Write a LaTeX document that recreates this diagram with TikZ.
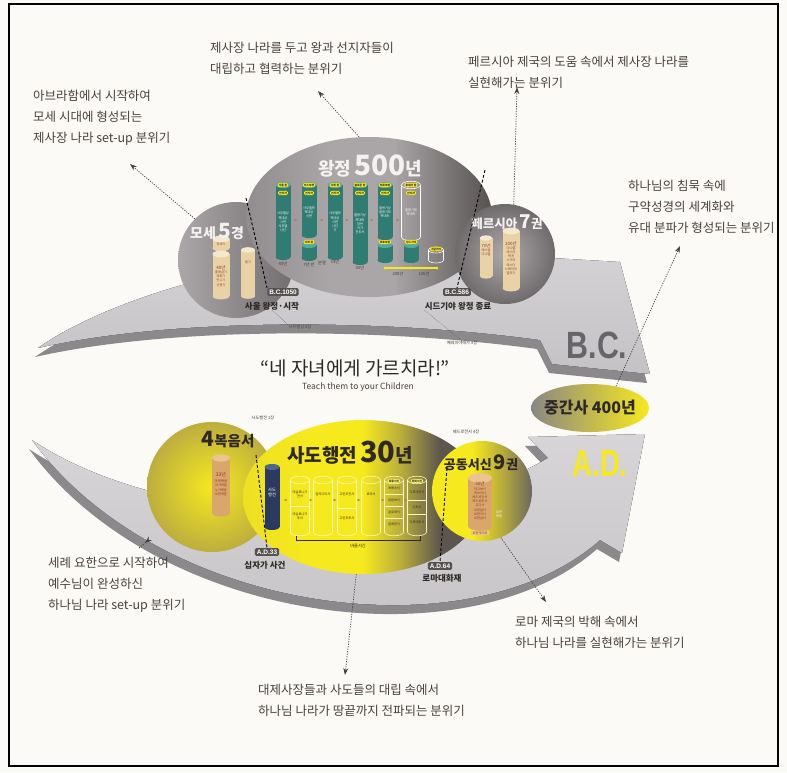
\documentclass[tikz,border=0pt]{standalone}
\usepackage{fontspec}
\setmainfont{Noto Sans CJK KR}
\newfontfamily\kr{Noto Sans CJK KR}
\newfontfamily\lat{Liberation Sans}
\usetikzlibrary{arrows.meta,shapes.geometric}
\definecolor{bgc}{HTML}{FBFAF7}
\definecolor{arl}{HTML}{C4C2C5}
\definecolor{arlt}{HTML}{D7D5D8}
\definecolor{ard}{HTML}{8C898D}
\definecolor{ink}{HTML}{4A403B}
\definecolor{dk}{HTML}{2E2925}
\definecolor{yel}{HTML}{F6E91E}
\definecolor{cteal}{HTML}{2F7C73}
\definecolor{ctealt}{HTML}{58A89D}
\definecolor{ctan}{HTML}{E9D3A6}
\definecolor{ctant}{HTML}{F5E8CC}
\definecolor{corn}{HTML}{D9A66B}
\definecolor{cornt}{HTML}{EAC592}
\definecolor{cnavy}{HTML}{2B3A60}
\definecolor{cnavyt}{HTML}{50648F}
\definecolor{lbl}{HTML}{56524F}
\definecolor{brn}{HTML}{8A3B1F}
\definecolor{cmk}{HTML}{B47B4B}
\definecolor{pale}{HTML}{FFF6C0}
\definecolor{gA}{HTML}{ABA6A8}
\definecolor{gB}{HTML}{726D6F}
\definecolor{gC}{HTML}{918C8E}
\definecolor{gD}{HTML}{AAA5A7}
\definecolor{gE}{HTML}{55514F}
\definecolor{gF}{HTML}{AEAAAB}
\definecolor{gG}{HTML}{6F6A6B}
\definecolor{gH}{HTML}{8B8783}
\definecolor{mY}{HTML}{C9BE6E}
\definecolor{yO}{HTML}{BDAE3E}
\definecolor{yM}{HTML}{B8AC3C}
\definecolor{yR}{HTML}{5C564E}
\definecolor{yR2}{HTML}{6C675E}
\definecolor{bcc}{HTML}{67646A}
\definecolor{tw}{HTML}{F4F2F0}
\pgfdeclarehorizontalshading{actsh}{100bp}{color(0bp)=(yel); color(25bp)=(yel!85!yO); color(38bp)=(yel); color(50bp)=(yel); color(58bp)=(yM); color(66bp)=(yR); color(100bp)=(yR)}
\pgfdeclarehorizontalshading{epish}{100bp}{color(0bp)=(yel); color(25bp)=(yel); color(45bp)=(yel); color(60bp)=(yM); color(75bp)=(yR2); color(100bp)=(yR2)}
\pgfdeclarehorizontalshading{wangsh}{100bp}{color(0bp)=(gC); color(25bp)=(gC); color(42bp)=(gD); color(55bp)=(gD); color(75bp)=(gE); color(100bp)=(gE)}

\newcommand\cylF[6]{%
 \fill[#5] ({#1-(#3)/2},#2) rectangle ({#1+(#3)/2},{#2+#4});
 \fill[#5] (#1,{#2+#4}) ellipse [x radius={(#3)*0.5pt}, y radius={(#3)*0.2pt}];
 \fill[#6] (#1,#2) ellipse [x radius={(#3)*0.5pt}, y radius={(#3)*0.2pt}];}
\newcommand\cylO[5]{%
 \draw[#5, line width=.6pt] ({#1-(#3)/2},#2) -- ({#1-(#3)/2},{#2+#4}) arc[start angle=180, end angle=360, x radius={(#3)*0.5pt}, y radius={(#3)*0.2pt}] -- ({#1+(#3)/2},#2);
 \draw[#5, line width=.6pt] (#1,#2) ellipse [x radius={(#3)*0.5pt}, y radius={(#3)*0.2pt}];}
\newcommand\mk[2]{\fill[cmk] ({#1-1.5},{#2-1.2}) -- ({#1+1.5},#2) -- ({#1-1.5},{#2+1.2}) -- cycle;}

\begin{document}
\begin{tikzpicture}[x=1pt,y=-1pt,
  note/.style={font=\kr\fontsize{12.5}{21}\selectfont, text=ink, align=left, inner sep=0, anchor=north west},
  ptr/.style={ink, line width=.7pt, dash pattern=on 1.2pt off 1.3pt, -{Stealth[length=7pt,width=5pt]}},
  bnd/.style={black, line width=.9pt, dash pattern=on 3pt off 2pt},
  ttl/.style={font=\kr\bfseries, inner sep=0},
  datebox/.style={fill=lbl, text=white, rounded corners=1.5pt, font=\lat\bfseries\fontsize{6.5}{6.5}\selectfont, inner xsep=2pt, inner ysep=1.6pt},
  evt/.style={font=\kr\bfseries\fontsize{8.5}{8.5}\selectfont, text=dk, inner sep=0},
  tiny/.style={font=\kr\fontsize{3.2}{4.2}\selectfont, align=center, inner sep=0},
  small/.style={font=\kr\fontsize{4.2}{4.6}\selectfont, align=center, inner sep=0, text=ink},
  capsule/.style={fill=yel, rounded corners=1.2pt, inner xsep=1pt, inner ysep=.7pt, font=\kr\bfseries\fontsize{2.8}{2.8}\selectfont, text=dk},
  bub/.style={ellipse, inner sep=0, draw=none},
]
\useasboundingbox (0,0) rectangle (787,772);
\fill[bgc] (0,0) rectangle (787,772);
\draw[black, line width=1.5pt] (9,4) rectangle (778,766);

% ---- B.C. arrow
\begin{scope}[shift={(-3,9)}]
\fill[ard] (38,348) .. controls (120,290) and (330,228) .. (552,258) -- (620,262) -- (650,374) -- (552,364) -- (540,340) .. controls (380,318) and (170,318) .. cycle;
\end{scope}
\fill[top color=arlt, bottom color=arl] (38,348) .. controls (120,290) and (330,228) .. (552,258) -- (620,262) -- (650,374) -- (552,364) -- (540,340) .. controls (380,318) and (170,318) .. cycle;
% ---- A.D. arrow
\begin{scope}[shift={(-3,9)}]
\fill[ard] (32,440) .. controls (150,520) and (400,545) .. (548,458) -- (528,437) -- (645,434) -- (622,553) -- (600,540) .. controls (470,655) and (160,615) .. cycle;
\end{scope}
\fill[top color=arlt, bottom color=arl] (32,440) .. controls (150,520) and (400,545) .. (548,458) -- (528,437) -- (645,434) -- (622,553) -- (600,540) .. controls (470,655) and (160,615) .. cycle;

\node[font=\lat\bfseries\fontsize{38}{38}\selectfont, text=bcc, xscale=.8, inner sep=0] (bct) at (597,345) {B.C.};
\node[font=\lat\bfseries\fontsize{38}{38}\selectfont, text=yel, xscale=.72, inner sep=0] (adt) at (600,463) {A.D.};

% ---- top: Moses
\node[bub, minimum width=116, minimum height=116, left color=gA, right color=gB] (moses) at (236,260) {};
\cylF{221}{239}{17}{9}{ctan}{ctant}
\node[tiny, text=brn] (m1) at (221,244) {창세기};
\cylF{221}{254}{17}{42}{ctan}{ctant}
\node[tiny, text=brn] (m2) at (221,276) {\fontsize{4.5}{5}\selectfont 40년\\출애굽기\\레위기\\민수기\\신명기};
\cylF{248}{250}{14}{46}{ctan}{ctant}
\node[tiny, text=brn] (m3) at (248,262) {욥기};
\node[ttl, text=tw] (mosesT) at (217,232) {\fontsize{14}{14}\selectfont 모세\,\fontsize{21}{21}\selectfont 5\fontsize{14}{14}\selectfont 경};

% ---- top: Kingdom
\node[bub, minimum width=246, minimum height=160, shading=wangsh] (wang) at (369,217) {};
\node[ttl, text=tw] (wangT) at (370,166) {\fontsize{18}{18}\selectfont 왕정\,\fontsize{28}{28}\selectfont 500\fontsize{18}{18}\selectfont 년};
\cylF{283}{185}{15}{72}{cteal}{ctealt}
\cylF{309}{185}{15}{50}{cteal}{ctealt}
\cylF{309}{245}{15}{13}{cteal}{ctealt}
\cylF{335}{185}{15}{72}{cteal}{ctealt}
\cylF{360}{185}{15}{77}{cteal}{ctealt}
\cylF{385}{185}{15}{52}{cteal}{ctealt}
\cylF{385}{245}{15}{15}{cteal}{ctealt}
\cylO{411}{185}{19}{52}{white}
\cylF{411}{245}{15}{15}{cteal}{ctealt}
\cylO{436}{250}{15}{10}{white}
\node[capsule] (k1) at (283,185) {사울 왕};
\node[capsule] (k2) at (309,185) {이스보셋};
\node[capsule] (k3) at (335,185) {다윗 왕};
\node[capsule] (k4) at (360,185) {솔로몬 왕};
\node[capsule] (k5) at (385,185) {여로보암};
\node[capsule] (k6) at (411,185) {호세아 왕};
\node[capsule] (k7) at (309,242) {다윗 왕};
\node[capsule] (k8) at (385,242) {르호보암};
\node[capsule] (k9) at (411,242) {시드기야};
\node[capsule] (k10) at (436,249) {그달리야};
\node[capsule] (s1) at (283,193) {선지자};
\node[capsule] (s2) at (309,193) {선지자};
\node[capsule] (s3) at (335,193) {선지자};
\node[capsule] (s4) at (360,193) {선지자};
\node[capsule] (s5) at (385,193) {선지자};
\node[capsule] (s6) at (411,193) {선지자};
\node[tiny, text=white] (w1) at (283,222) {사무엘상\\역대상\\시편\\사무엘\\나단};
\node[tiny, text=white] (w2) at (309,212) {사무엘하\\역대상\\시편};
\node[tiny, text=white] (w3) at (335,222) {사무엘하\\역대상\\시편\\나단\\갓};
\node[tiny, text=white] (w4) at (360,224) {열왕기상\\역대하\\잠언\\아가\\전도서};
\node[tiny, text=white] (w5) at (385,212) {열왕기상\\열왕기하\\역대하};
\node[tiny, text=white] (w6) at (411,212) {열왕기하\\역대하};
\mk{296}{220}\mk{322}{220}\mk{347}{220}\mk{372}{220}\mk{398}{220}
\node[small] (y1) at (283,264) {40년};
\node[small] (y2) at (309,265) {7년 반};
\node[small] (y3) at (322,263) {분열};
\node[small] (y4) at (335,262) {33년};
\node[small] (y5) at (360,268) {40년};
\draw[yel, line width=1.2pt] (385,268) -- (437,268);
\fill[yel] (385,268) circle (1.5pt) (411,268) circle (1.5pt) (437,268) circle (1.5pt);
\node[small] (y6) at (398,274) {208년};
\node[small] (y7) at (424,274) {136년};

% ---- top: Persia
\node[bub, minimum width=100, minimum height=100, inner color=gF, outer color=gG] (persia) at (505,254) {};
\node[ttl, text=tw] (persiaT) at (507,222) {\fontsize{12.5}{12.5}\selectfont 페르시아\,\fontsize{19}{19}\selectfont 7\fontsize{12.5}{12.5}\selectfont 권};
\cylF{486}{238}{13}{38}{ctan}{ctant}
\node[tiny, text=brn] (p1) at (486,250) {\fontsize{4.2}{5}\selectfont 70년\\에스겔\\다니엘};
\cylF{511}{231}{17}{57}{ctan}{ctant}
\node[tiny, text=brn] (p2) at (511,258) {\fontsize{4.5}{5}\selectfont 100년\\다니엘\\에스라\\학개\\스가랴\\에스더\\느헤미야\\말라기};

% ---- top dates
\node[datebox] (bc1050) at (283,292) {B.C.1050};
\node[evt] (ev1) at (272,306) {사울 왕정·시작};
\node[datebox] (bc586) at (457,292) {B.C.586};
\node[evt] (ev2) at (458,306) {시드기야 왕정 종료};
\coordinate (b1) at (246,198);
\coordinate (b2) at (485,170);
\draw[bnd] (b1) -- (bc1050.north west);
\draw[bnd] (b2) -- (bc586.north);
\node[small] (t1) at (300,327) {사무엘상 8장};
\node[small] (t2) at (462,343) {예레미야애가 3장};
\draw[ink, densely dotted, line width=.4pt] (ev1.south) -- (t1.north west);
\draw[ink, densely dotted, line width=.4pt] (ev2.south west) -- (t2.north);

% ---- intertestamental
\node[bub, minimum width=118, minimum height=48, left color=gH, middle color=mY, right color=yel] (mid) at (590,408) {};
\node[ttl, text=dk, font=\kr\bfseries\fontsize{16}{16}\selectfont] (midT) at (590,408) {중간사 400년};

% ---- quote
\node[font=\kr\fontsize{19}{19}\selectfont, text=dk, inner sep=0] (quote) at (355,368) {“네 자녀에게 가르치라!”};
\node[font=\itshape\fontsize{8.5}{8.5}\selectfont, text=ink, inner sep=0] (quoteE) at (358,387) {Teach them to your Children};

% ---- bottom: Gospels
\node[bub, minimum width=130, minimum height=130, inner color=yel, outer color=yO] (gospel) at (212,487) {};
\node[ttl, text=dk] (gospelT) at (228,440) {\fontsize{21}{21}\selectfont 4\fontsize{14.5}{14.5}\selectfont 복음서};
\cylF{221}{458}{18}{55}{corn}{cornt}
\node[tiny, text=brn] (g1) at (221,484) {\fontsize{5}{6}\selectfont 33년\\[2pt]\fontsize{3.4}{4.6}\selectfont 마태복음\\마가복음\\누가복음\\요한복음};

% ---- bottom: Acts
\node[bub, minimum width=240, minimum height=154, shading=actsh] (acts) at (363,497) {};
\node[ttl, text=dk] (actsT) at (350,453) {\fontsize{19}{19}\selectfont 사도행전\,\fontsize{29}{29}\selectfont 30\fontsize{19}{19}\selectfont 년};
\cylF{272}{467}{15}{60}{cnavy}{cnavyt}
\node[tiny, text=white, font=\kr\fontsize{4.2}{5}\selectfont] (a0) at (272,492) {사도\\행전};
\cylO{300}{480}{19}{52}{pale}
\cylO{323}{480}{19}{52}{pale}
\cylO{347}{480}{19}{52}{pale}
\cylO{371}{480}{19}{52}{pale}
\cylO{394}{480}{19}{52}{pale}
\cylO{417}{480}{19}{52}{pale}
\draw[pale, line width=.5pt] (290.5,506) -- (309.5,506) (337.5,508) -- (356.5,508) (384.5,494) -- (403.5,494) (384.5,506) -- (403.5,506) (384.5,518) -- (403.5,518) (407.5,500) -- (426.5,500) (407.5,514) -- (426.5,514);
\node[tiny, text=dk] (a1) at (300,494) {데살로니가\\전서};
\node[tiny, text=dk] (a2) at (300,516) {데살로니가\\후서};
\node[tiny, text=dk] (a3) at (323,494) {갈라디아서};
\node[tiny, text=dk] (a4) at (347,494) {고린도전서};
\node[tiny, text=dk] (a5) at (347,518) {고린도후서};
\node[tiny, text=dk] (a6) at (371,494) {로마서};
\node[capsule, fill=yel!70!white] (a7) at (394,481) {옥중서신};
\node[tiny, text=dk] (a8) at (394,488) {에베소서};
\node[tiny, text=dk] (a9) at (394,500) {빌립보서};
\node[tiny, text=dk] (a10) at (394,512) {골로새서};
\node[tiny, text=dk] (a11) at (394,524) {빌레몬서};
\node[capsule, fill=yel!70!white] (a12) at (417,481) {목회서신};
\node[tiny, text=dk] (a13) at (417,492) {디모데전서};
\node[tiny, text=dk] (a14) at (417,507) {디도서};
\node[tiny, text=dk] (a15) at (417,522) {디모데후서};
\mk{286}{500}\mk{311}{500}\mk{335}{500}\mk{359}{500}\mk{383}{500}\mk{406}{500}
\draw[dk, line width=.5pt] (296,536) -- (296,540) -- (420,540) -- (420,536);
\node[small, text=dk] (paul) at (358,546) {바울서신};

% ---- bottom: General epistles
\node[bub, minimum width=100, minimum height=100, shading=epish] (epist) at (482,491) {};
\node[ttl, text=dk] (epistT) at (481,463) {\fontsize{13}{13}\selectfont 공동서신\,\fontsize{20}{20}\selectfont 9\fontsize{13}{13}\selectfont 권};
\cylF{480}{478}{24}{48}{corn}{cornt}
\node[tiny, text=brn] (e1) at (480,501) {\fontsize{4.6}{5}\selectfont 30년\\\fontsize{3.2}{4}\selectfont 야고보서\\히브리서\\베드로전서\\베드로후서\\유다서\\요한일서\\요한이서\\요한삼서};
\node[fill=cornt, inner xsep=1.5pt, inner ysep=.8pt, font=\kr\fontsize{3.2}{3.2}\selectfont, text=brn] (e2) at (480,533) {요한계시록};
\node[tiny, text=white] (e3) at (499,514) {요한\\복음};

% ---- bottom dates
\node[datebox] (ad33) at (267,552) {A.D.33};
\node[evt] (ev3) at (265,565) {십자가 사건};
\node[datebox] (ad64) at (440,566) {A.D.64};
\node[evt] (ev4) at (442,578) {로마대화재};
\coordinate (b3) at (256,455);
\coordinate (b4) at (447,468);
\draw[bnd] (b3) -- (ad33.north);
\draw[bnd] (b4) -- (ad64.north);
\node[small] (t3) at (263,418) {사도행전 1장};
\node[small] (t4) at (466,432) {베드로전서 4장};

% ---- annotations
\node[note] (n1) at (33,90) {아브라함에서 시작하여\\모세 시대에 형성되는\\제사장 나라 set-up 분위기};
\node[note] (n2) at (210,42) {제사장 나라를 두고 왕과 선지자들이\\대립하고 협력하는 분위기};
\node[note] (n3) at (468,56) {페르시아 제국의 도움 속에서 제사장 나라를\\실현해가는 분위기};
\node[note] (n4) at (628,180) {하나님의 침묵 속에\\구약성경의 세계화와\\유대 분파가 형성되는 분위기};
\node[note] (n5) at (48,557) {세례 요한으로 시작하여\\예수님이 완성하신\\하나님 나라 set-up 분위기};
\node[note] (n6) at (515,616) {로마 제국의 박해 속에서\\하나님 나라를 실현해가는 분위기};
\node[note] (n7) at (258,684) {대제사장들과 사도들의 대립 속에서\\하나님 나라가 땅끝까지 전파되는 분위기};

\coordinate (e1a) at (130,164);
\coordinate (e2a) at (318,91);
\coordinate (e3a) at (517,87);
\coordinate (e4a) at (680,246);
\coordinate (e5a) at (145,543);
\coordinate (e6a) at (345,675);
\coordinate (e7a) at (546,602);
\draw[ptr] (moses.135) -- (e1a);
\draw[ptr] (wang.97) -- (e2a);
\draw[ptr] (persia.80) -- (e3a);
\draw[ptr] (mid.40) -- (e4a);
\draw[ptr, shorten <=30pt] (gospel) -- (e5a);
\draw[ptr] (acts.265) -- (e6a);
\draw[ptr] (epist.292) -- (e7a);
\end{tikzpicture}
\end{document}
